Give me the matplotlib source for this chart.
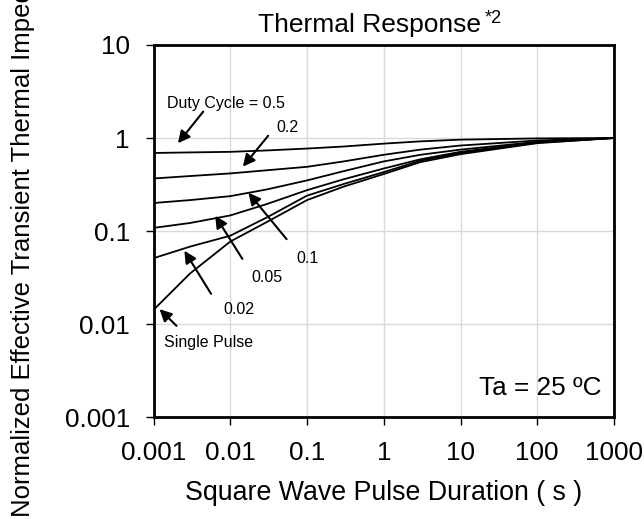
import matplotlib
matplotlib.use("Agg")
import matplotlib.pyplot as plt

plt.rcParams['font.family'] = ['Liberation Sans', 'DejaVu Sans']

# pulse duration (s)
t = [0.001, 0.003, 0.01, 0.03, 0.1, 0.3, 1, 3, 10, 100, 1000]

# normalized transient thermal impedance
d05 = [0.69, 0.70, 0.71, 0.735, 0.77, 0.81, 0.87, 0.92, 0.96, 0.99, 1.0]
d02 = [0.367, 0.39, 0.416, 0.45, 0.49, 0.56, 0.66, 0.75, 0.83, 0.94, 1.0]
d01 = [0.20, 0.215, 0.237, 0.28, 0.35, 0.44, 0.56, 0.66, 0.75, 0.91, 1.0]
d005 = [0.108, 0.122, 0.147, 0.195, 0.275, 0.36, 0.47, 0.59, 0.71, 0.90, 1.0]
d002 = [0.051, 0.068, 0.089, 0.14, 0.24, 0.32, 0.43, 0.57, 0.69, 0.89, 1.0]
single = [0.0142, 0.035, 0.077, 0.125, 0.215, 0.30, 0.41, 0.55, 0.67, 0.88, 1.0]

x_ticks = [0.001, 0.01, 0.1, 1, 10, 100, 1000]
x_labels = ['0.001', '0.01', '0.1', '1', '10', '100', '1000']
y_ticks = [0.001, 0.01, 0.1, 1, 10]
y_labels = ['0.001', '0.01', '0.1', '1', '10']

fig = plt.figure(figsize=(6.44, 5.19), dpi=100)
ax = fig.add_axes([0.2384, 0.1965, 0.715, 0.7168])

for series in [d05, d02, d01, d005, d002, single]:
    ax.plot(t, series, color='black', lw=1.3)

ax.set_xscale('log')
ax.set_yscale('log')
ax.set_xlim(0.001, 1000)
ax.set_ylim(0.001, 10)
ax.set_xticks(x_ticks)
ax.set_xticklabels(x_labels)
ax.set_yticks(y_ticks)
ax.set_yticklabels(y_labels)
ax.minorticks_off()
ax.grid(True, color='#d9d9d9', lw=1.0)
ax.set_axisbelow(True)
for s in ax.spines.values():
    s.set_linewidth(2.0)
ax.tick_params(axis='x', direction='out', length=6, width=1.0, pad=11, labelsize=18.8)
ax.tick_params(axis='y', direction='out', length=6, width=1.0, pad=11, labelsize=18.8)

ax.set_xlabel('Square Wave Pulse Duration ( s )', fontsize=19.3, labelpad=11)
fig.text(23 / 644, 2 / 519, 'Normalized Effective Transient Thermal Impedance',
         rotation=90, ha='center', va='bottom', fontsize=18.5)

title = ax.set_title('Thermal Response', fontsize=19, pad=9.5, x=0.47)
ax.annotate('*2', xy=(1, 1), xycoords=title, xytext=(2, 2),
            textcoords='offset points', fontsize=13, ha='left', va='top')

# labels with arrows: (text, text pos, arrow tail, arrow head) in axes fraction
notes = [
    ('Duty Cycle = 0.5', (0.157, 0.843), (0.108, 0.821), (0.053, 0.736)),
    ('0.2', (0.291, 0.777), (0.249, 0.756), (0.194, 0.673)),
    ('0.1', (0.334, 0.427), (0.289, 0.478), (0.206, 0.603)),
    ('0.05', (0.246, 0.374), (0.193, 0.425), (0.134, 0.541)),
    ('0.02', (0.185, 0.290), (0.125, 0.331), (0.067, 0.447)),
    ('Single Pulse', (0.1205, 0.200), (0.050, 0.245), (0.013, 0.290)),
]
for label, tpos, tail, head in notes:
    ax.text(tpos[0], tpos[1], label, transform=ax.transAxes, fontsize=11.5,
            ha='center', va='center')
    ax.annotate('', xy=head, xycoords='axes fraction', xytext=tail,
                textcoords='axes fraction',
                arrowprops=dict(arrowstyle='-|>', color='black', lw=1.5,
                                mutation_scale=18, shrinkA=0, shrinkB=0))

ax.text(0.972, 0.077, 'Ta = 25 ºC', transform=ax.transAxes, fontsize=18.8,
        ha='right', va='center')

fig.savefig('out.png', dpi=100)
